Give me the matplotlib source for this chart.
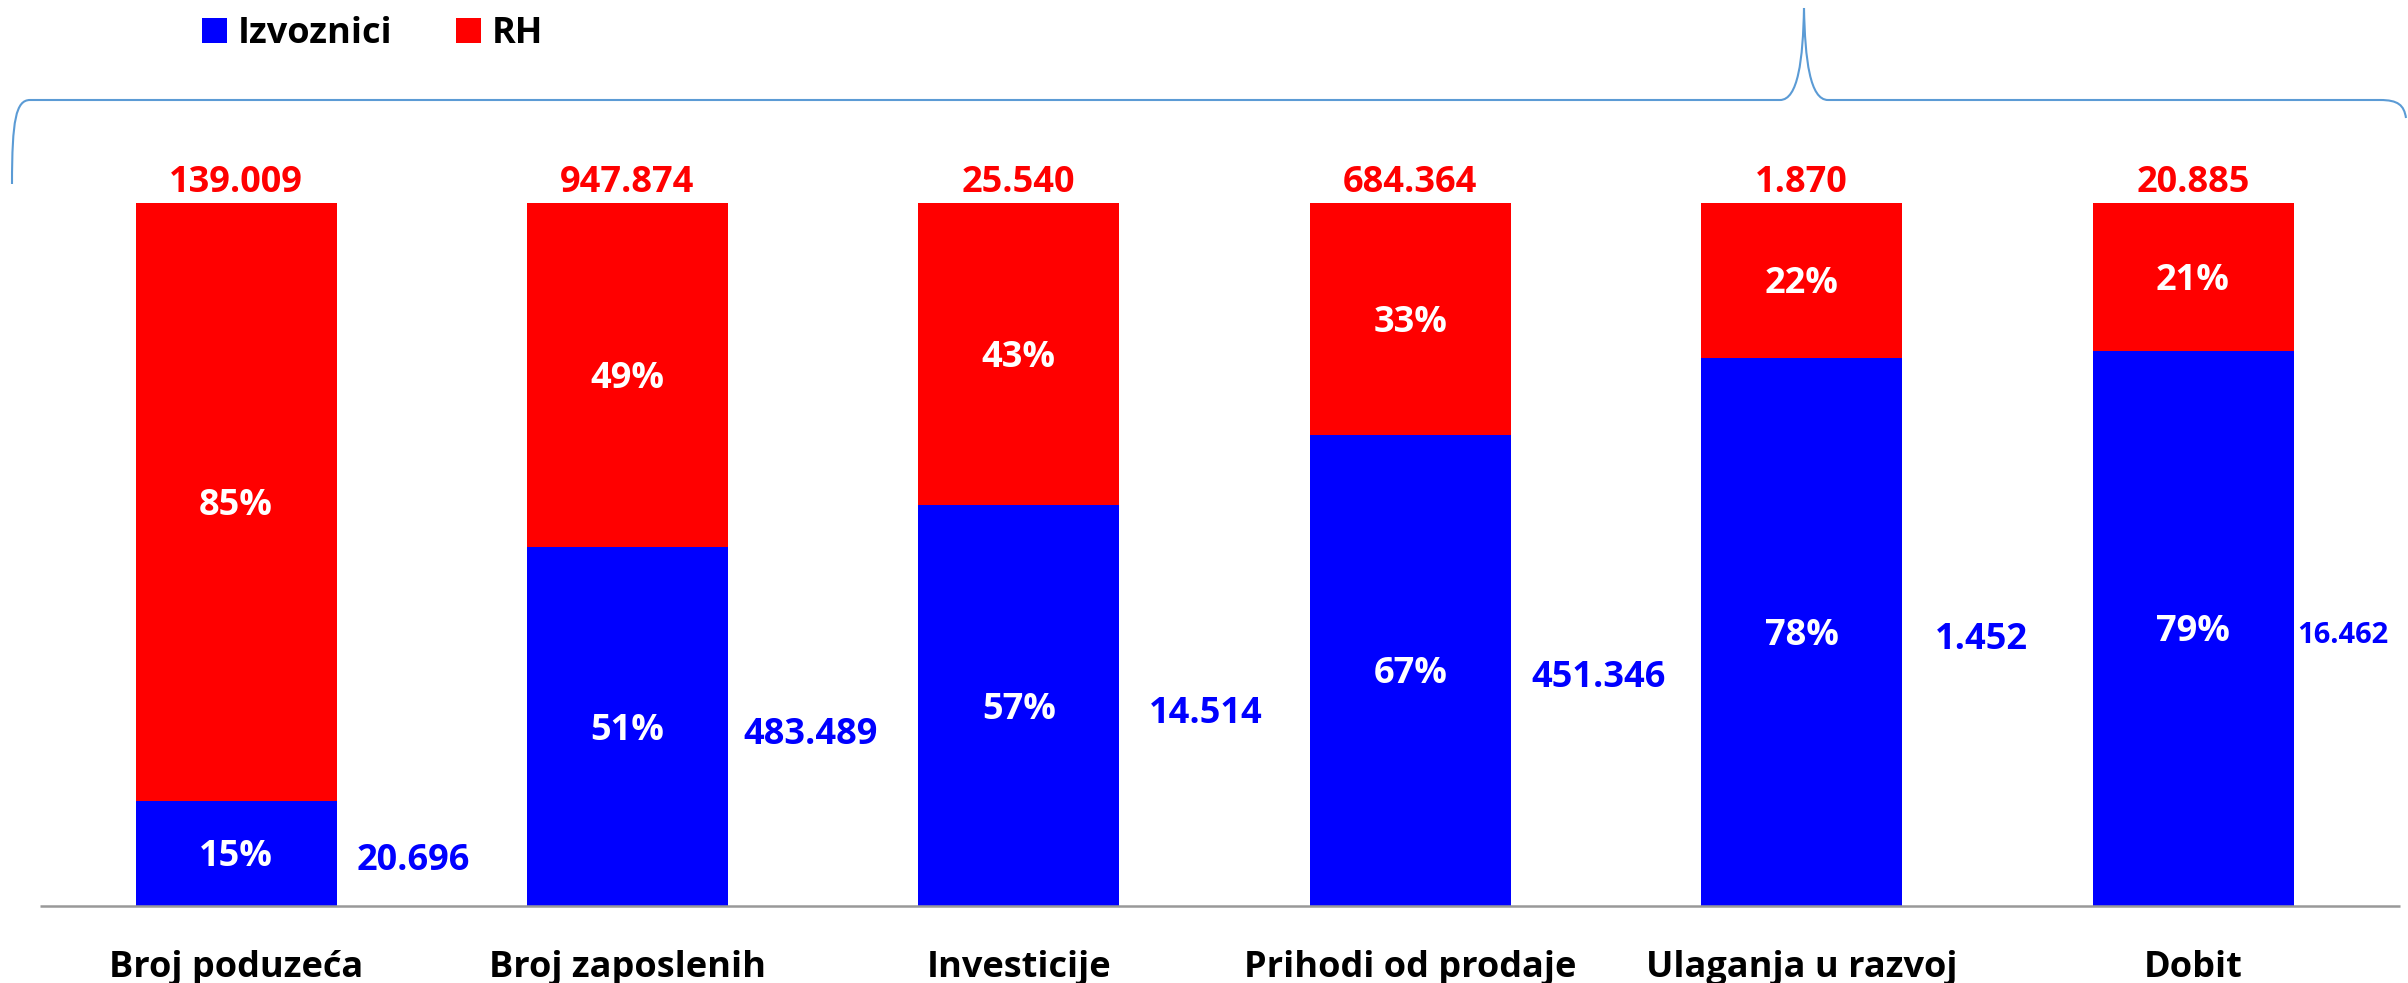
import matplotlib
matplotlib.use("Agg")
import matplotlib.pyplot as plt
from matplotlib.path import Path
from matplotlib.patches import PathPatch

# ---- data ----
categories = ["Broj poduzeća", "Broj zaposlenih", "Investicije",
              "Prihodi od prodaje", "Ulaganja u razvoj", "Dobit"]
izvoznici_pct = [15, 51, 57, 67, 78, 79]
rh_pct = [85, 49, 43, 33, 22, 21]
izvoznici_values = ["20.696", "483.489", "14.514", "451.346", "1.452", "16.462"]
rh_values = ["139.009", "947.874", "25.540", "684.364", "1.870", "20.885"]
legend_labels = ["Izvoznici", "RH"]

# ---- style ----
plt.rcParams['font.family'] = ["Open Sans", "DejaVu Sans"]
plt.rcParams['font.weight'] = 'bold'

BLUE = "#0000FF"
RED = "#FF0000"
FS = 26

W, H, DPI = 24.08, 9.83, 100
fig = plt.figure(figsize=(W, H), dpi=DPI)
ax = fig.add_axes([0, 0, 1, 1])

# layout: pixel <-> data mapping
x0px, dxpx = 236.0, 391.4
base_px, top_px = 906.0, 203.0
per = (base_px - top_px) / 100.0
ax.set_xlim((0 - x0px) / dxpx, (W * DPI - x0px) / dxpx)
ax.set_ylim(-(H * DPI - base_px) / per, 100 + top_px / per)
ax.axis('off')


def px2x(px):
    return (px - x0px) / dxpx


def py2y(py):
    return (base_px - py) / per


def dpx(p):
    return p / per


x = list(range(len(categories)))
bw = 201.0 / dxpx
ax.bar(x, izvoznici_pct, width=bw, color=BLUE, linewidth=0, label=legend_labels[0])
ax.bar(x, rh_pct, width=bw, bottom=izvoznici_pct, color=RED, linewidth=0, label=legend_labels[1])

# baseline axis
ax.plot([px2x(40), px2x(2400)], [0, 0], color="#999999", lw=1.8, solid_capstyle='butt')

# side-label horizontal offsets (px from bar centre)
side_off = [177, 183, 187, 188, 180, 150]
side_fs = [FS, FS, FS, FS, FS, 21]
cap = 0.714 * FS * DPI / 72.0  # cap height in px

for i in range(len(categories)):
    b = izvoznici_pct[i]
    r = rh_pct[i]
    ax.text(i, b / 2 - dpx(cap / 2), f"{b}%", color="white", ha="center", va="baseline",
            fontsize=FS, fontweight='bold')
    ax.text(i, b + r / 2 - dpx(cap / 2), f"{r}%", color="white", ha="center", va="baseline",
            fontsize=FS, fontweight='bold')
    ax.text(i, py2y(192), rh_values[i], color=RED, ha="center", va="baseline",
            fontsize=FS, fontweight='bold')
    c = 0.714 * side_fs[i] * DPI / 72.0
    ax.text(i + side_off[i] / dxpx, b / 2 - dpx(4 + c / 2), izvoznici_values[i], color=BLUE,
            ha="center", va="baseline", fontsize=side_fs[i], fontweight='bold')
    ax.text(i, py2y(977), categories[i], color="black", ha="center", va="baseline",
            fontsize=FS, fontweight='bold')

# legend (manual)
ax.add_patch(plt.Rectangle((px2x(202), py2y(43)), 25 / dxpx, dpx(25), color=BLUE, lw=0))
ax.text(px2x(238), py2y(43), legend_labels[0], fontsize=FS, va="baseline", ha="left", fontweight='bold')
ax.add_patch(plt.Rectangle((px2x(456), py2y(43)), 25 / dxpx, dpx(25), color=RED, lw=0))
ax.text(px2x(492), py2y(43), legend_labels[1], fontsize=FS, va="baseline", ha="left", fontweight='bold')

# brace
pts = [
    (12, 184), (12, 120), (16, 100), (30, 100),
    (1780, 100), (1798, 100), (1803, 60), (1804, 8),
    (1805, 60), (1810, 100), (1828, 100),
    (2380, 100), (2398, 100), (2404, 105), (2406, 118),
]
codes = [Path.MOVETO, Path.CURVE4, Path.CURVE4, Path.CURVE4,
         Path.LINETO, Path.CURVE4, Path.CURVE4, Path.CURVE4,
         Path.CURVE4, Path.CURVE4, Path.CURVE4,
         Path.LINETO, Path.CURVE4, Path.CURVE4, Path.CURVE4]
verts = [(px2x(a), py2y(b)) for a, b in pts]
ax.add_patch(PathPatch(Path(verts, codes), fill=False, edgecolor="#5B9BD5", lw=1.5))

fig.savefig("out.png", dpi=DPI)
